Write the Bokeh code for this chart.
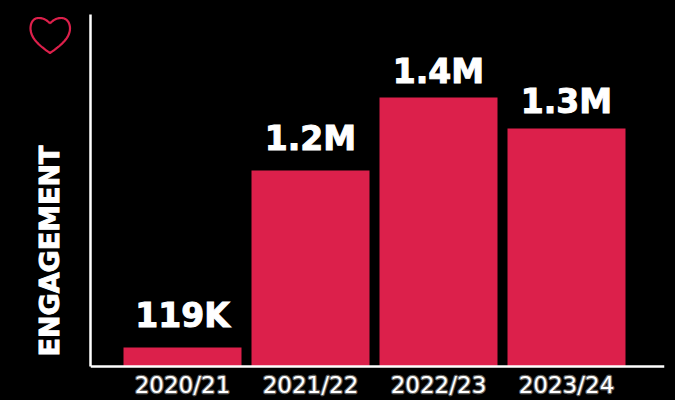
from bokeh.plotting import figure
from bokeh.embed import file_html
from bokeh.resources import INLINE
from bokeh.layouts import row
from bokeh.models import Range1d, FixedTicker, ColumnDataSource
from bokeh.core.properties import value
import numpy as np

seasons = ["2020/21", "2021/22", "2022/23", "2023/24"]
bar_values = [0.099, 1.024, 1.405, 1.243]
bar_labels = ["119K", "1.2M", "1.4M", "1.3M"]
y_title = "ENGAGEMENT"

BG = "#000000"
RED = "#DC204B"
HEAVY = "DejaVu Sans"
W, H = 675, 400
SIDE = 80
L, R, T, B = 90, 664, 14, 366
PX_PER_UNIT = 191.4
STEP = 128.0
label_gap_px = [32, 32, 26, 27]

# left strip: heart icon and the rotated axis title; its frame lines up with the chart's frame
side = figure(width=SIDE, height=H, output_backend="svg", toolbar_location=None,
              x_range=Range1d(0, SIDE), y_range=Range1d(H, T),
              min_border=0, min_border_top=T, background_fill_color=BG, border_fill_color=BG, outline_line_color=None)
side.axis.visible = False
side.grid.visible = False

def bez(a, b, c, d, n=16):
    t = np.linspace(0, 1, n)[:, None]
    a, b, c, d = map(np.array, (a, b, c, d))
    return (1-t)**3*a + 3*(1-t)**2*t*b + 3*(1-t)*t**2*c + t**3*d
pts = np.vstack([
    bez((49.5, 23), (45, 18), (41, 17.5), (38, 17.5)),
    bez((38, 17.5), (33, 17.5), (30, 22), (30, 28)),
    bez((30, 28), (30, 38), (40, 46), (49.5, 52.5)),
    bez((49.5, 52.5), (59, 46), (69.5, 38), (69.5, 28)),
    bez((69.5, 28), (69.5, 22), (66, 17.5), (61, 17.5)),
    bez((61, 17.5), (58, 17.5), (54, 18), (49.5, 23)),
])
side.line(pts[:, 0], pts[:, 1], line_color=RED, line_width=2.2)
side.text(x=[49], y=[356], text=[y_title], angle=np.pi / 2, text_color="white", text_font=value(HEAVY),
          text_font_style="bold", text_font_size="27px", text_outline_color="white", text_baseline="alphabetic")

# main chart: the frame runs to the canvas bottom, the x axis is pinned at zero
xs = list(range(len(seasons)))
top = (B - T) / PX_PER_UNIT
p = figure(width=W - SIDE, height=H, output_backend="svg", toolbar_location=None,
           x_range=Range1d(-0.5 - (123 - 5 - L) / STEP, 3.5 + (R - 630) / STEP),
           y_range=Range1d(-(H - B) / PX_PER_UNIT, top),
           min_border_left=L - SIDE, min_border_right=W - R, min_border_top=T, min_border_bottom=0,
           background_fill_color=BG, border_fill_color=BG, outline_line_color=None)
p.grid.visible = False
p.vbar(x=xs, top=bar_values, width=118 / STEP, bottom=0, color=RED, line_color=None)

src = ColumnDataSource(dict(x=xs, y=bar_values, t=bar_labels, off=[-g for g in label_gap_px]))
p.text(x="x", y="y", text="t", source=src, y_offset="off", text_align="center", text_baseline="alphabetic",
       text_color="white", text_font=value(HEAVY), text_font_style="bold", text_font_size="33px",
       text_outline_color="white")

p.xaxis.fixed_location = 0
p.xaxis.ticker = FixedTicker(ticks=xs)
p.xaxis.major_label_overrides = {i: s for i, s in zip(xs, seasons)}
p.xaxis.major_tick_line_color = None
p.xaxis.minor_tick_line_color = None
p.xaxis.major_tick_in = 0
p.xaxis.major_tick_out = 0
p.xaxis.axis_line_color = "white"
p.xaxis.axis_line_width = 2.5
p.xaxis.major_label_text_color = "white"
p.xaxis.major_label_text_font = "DejaVu Sans"
p.xaxis.major_label_text_font_size = "23px"
p.xaxis.major_label_text_outline_color = (255, 255, 255, 0.4)
p.xaxis.major_label_text_line_height = 1.0
p.xaxis.major_label_standoff = 5
p.yaxis.bounds = (0, top)
p.yaxis.ticker = FixedTicker(ticks=[])
p.yaxis.major_tick_in = 0
p.yaxis.major_tick_out = 0
p.yaxis.major_tick_line_color = None
p.yaxis.minor_tick_line_color = None
p.yaxis.major_label_text_font_size = "0px"
p.yaxis.axis_line_color = "white"
p.yaxis.axis_line_width = 2.5

layout = row(side, p, spacing=0)
html = file_html(layout, INLINE)
css = "<style>html,body{margin:0;padding:0;background:#000;overflow:hidden}</style>"
html = html.replace("</head>", css + "</head>", 1)
open("out.html", "w").write(html)
